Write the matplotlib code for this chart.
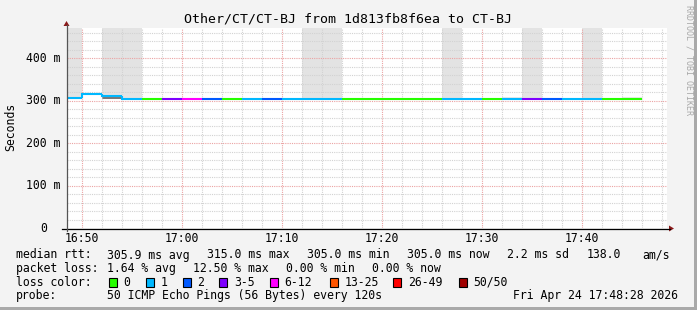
import matplotlib
matplotlib.use('Agg')
import matplotlib.pyplot as plt
from matplotlib.patches import Rectangle, Polygon
from matplotlib.lines import Line2D

W, H = 697, 310
MONO = 'DejaVu Sans Mono'

# 120 s steps, start of each step in minutes after 16:00 (16:48 .. 17:44)
step_start = [48, 50, 52, 54, 56, 58, 60, 62, 64, 66, 68, 70, 72, 74, 76,
              78, 80, 82, 84, 86, 88, 90, 92, 94, 96, 98, 100, 102, 104]
# median rtt per step (ms)
median_ms = [307, 315, 312, 305, 305, 305, 305, 305, 305, 305, 305, 305, 305, 305, 305,
             305, 305, 305, 305, 305, 305, 305, 305, 305, 305, 305, 305, 305, 305]
# lost pings per step (of 50)
lost = [1, 1, 1, 1, 0, 4, 6, 2, 0, 1, 2, 1, 1, 1, 0,
        0, 0, 0, 0, 1, 1, 0, 1, 4, 2, 1, 1, 0, 0]
# smoke (slowest / fastest ping) per step, ms
smoke_hi = [600, 315, 600, 600, 305, 305, 305, 305, 305, 305, 305, 305, 600, 600, 305,
            305, 305, 305, 305, 600, 305, 305, 310, 600, 305, 305, 600, 305, 309]
smoke_lo = [307, 315, 305, 305, 305, 305, 305, 305, 305, 305, 305, 305, 305, 305, 305,
            305, 305, 305, 305, 305, 305, 305, 305, 305, 305, 305, 305, 305, 305]

loss_labels = ['0', '1', '2', '3-5', '6-12', '13-25', '26-49', '50/50']
loss_limits = [0, 1, 2, 3, 6, 13, 26, 50]
loss_colors = ['#26ff00', '#00b8ff', '#0059ff', '#7e00ff', '#ff00ff',
               '#ff5500', '#ff0000', '#a00000']

title = 'Other/CT/CT-BJ from 1d813fb8f6ea to CT-BJ'
x_ticks = [50, 60, 70, 80, 90, 100]
y_ticks = [0, 100, 200, 300, 400]

x_min, x_max = 48.53, 108.53
y_max = 472


def color_for(n):
    c = loss_colors[0]
    for lim, col in zip(loss_limits, loss_colors):
        if n >= lim:
            c = col
    return c


def fx(px):
    return px / W


def fy(py):
    return 1 - py / H


fig = plt.figure(figsize=(W / 100, H / 100), dpi=100, facecolor='#f3f3f3')
ax = fig.add_axes([fx(67), fy(228.3), (667 - 67) / W, (228.3 - 27.7) / H])
ax.set_facecolor('white')
ax.set_xlim(x_min, x_max)
ax.set_ylim(0, y_max)
for s in ax.spines.values():
    s.set_visible(False)
ax.set_xticks([])
ax.set_yticks([])

# smoke
for x0, lo, hi, m in zip(step_start, smoke_lo, smoke_hi, median_ms):
    if hi > m:
        shade = '#e3e3e3' if hi > y_max else '#e9e9e9'
        ax.fill_between([x0, x0 + 2], m, min(hi, y_max + 10), color=shade, lw=0, zorder=1)
    if lo < m:
        ax.fill_between([x0, x0 + 2], lo, m, color='#7a7a7a', lw=0, zorder=1)

# grid
dot = (0, (1, 1))
for m in range(50, 110, 2):
    major = m % 10 == 0
    ax.axvline(m, color='#eba3a3' if major else '#d2d2d2', lw=0.8, ls=dot, zorder=2)
for v in range(20, 480, 20):
    major = v % 100 == 0
    ax.axhline(v, color='#eba3a3' if major else '#d2d2d2', lw=0.8, ls=dot, zorder=2)

# median line coloured by loss
prev = median_ms[0]
for x0, m, n in zip(step_start, median_ms, lost):
    ax.plot([x0, x0, x0 + 2], [prev, m, m], color=color_for(n), lw=1.5,
            solid_capstyle='butt', solid_joinstyle='miter', zorder=3)
    prev = m

# axes with arrows
fig.add_artist(Line2D([fx(62), fx(670)], [fy(228.5), fy(228.5)], color='black', lw=0.9))
fig.add_artist(Line2D([fx(66.5), fx(66.5)], [fy(231), fy(25)], color='#555555', lw=0.9))
fig.add_artist(Polygon([[fx(669), fy(225.5)], [fx(674), fy(228.5)], [fx(669), fy(231.5)]],
                       closed=True, color='#8b1a1a', lw=0))
fig.add_artist(Polygon([[fx(63.5), fy(26)], [fx(66.5), fy(21)], [fx(69.5), fy(26)]],
                       closed=True, color='#8b1a1a', lw=0))

# tick labels
for m in x_ticks:
    px = 67 + (m - x_min) * 600 / (x_max - x_min)
    lab = '%d:%02d' % (16 + m // 60, m % 60)
    fig.text(fx(px + 0.5), fy(238), lab, ha='center', va='center', family=MONO, fontsize=8.3)
for v in y_ticks:
    py = 228.3 - v * (228.3 - 27.7) / y_max
    if v == 0:
        fig.text(fx(44), fy(py), '0', ha='center', va='center', family=MONO, fontsize=8.3)
    else:
        fig.text(fx(60), fy(py), '%d m' % v, ha='right', va='center', family=MONO, fontsize=8.3)

fig.text(fx(11), fy(127), 'Seconds', rotation=90, ha='center', va='center', family=MONO, fontsize=8.3)
fig.text(fx(348), fy(19), title, ha='center', va='center', family=MONO, fontsize=9.5)
fig.text(fx(688.5), fy(5), 'RRDTOOL / TOBI OETIKER', rotation=-90, ha='center', va='top',
         family=MONO, fontsize=6, color='#a8a8a8')


# legend
def txt(x, y, s):
    fig.text(fx(x), fy(y), s, ha='left', va='center', family=MONO, fontsize=8.3)


txt(16, 255, 'median rtt:')
txt(107.3, 255, '305.9 ms avg')
txt(207.3, 255, '315.0 ms max')
txt(307.3, 255, '305.0 ms min')
txt(407.3, 255, '305.0 ms now')
txt(506.7, 255, '2.2 ms sd')
txt(586.7, 255, '138.0')
txt(642.3, 255, 'am/s')

txt(16, 268.5, 'packet loss:')
txt(107.3, 268.5, '1.64 % avg')
txt(193.2, 268.5, '12.50 % max')
txt(286.0, 268.5, '0.00 % min')
txt(372.0, 268.5, '0.00 % now')

txt(16, 282.3, 'loss color:')
box_x = [108.7, 145.7, 182.7, 219.3, 270, 330, 393.3, 459]
for bx, lab, col in zip(box_x, loss_labels, loss_colors):
    fig.add_artist(Rectangle((fx(bx), fy(286.7)), 8 / W, 9 / H, transform=fig.transFigure,
                             facecolor=col, edgecolor='black', lw=0.8))
    txt(bx + 14.5, 282.3, lab)

txt(16, 296, 'probe:')
txt(107.3, 296, '50 ICMP Echo Pings (56 Bytes) every 120s')
txt(513.3, 296, 'Fri Apr 24 17:48:28 2026')

# frame shading
fig.add_artist(Rectangle((0, 0), 1, 3 / H, transform=fig.transFigure, color='#a9a9a9', lw=0))
fig.add_artist(Rectangle((1 - 3 / W, 0), 3 / W, 1, transform=fig.transFigure, color='#a9a9a9', lw=0))

fig.savefig('out.png', dpi=100, facecolor=fig.get_facecolor())
